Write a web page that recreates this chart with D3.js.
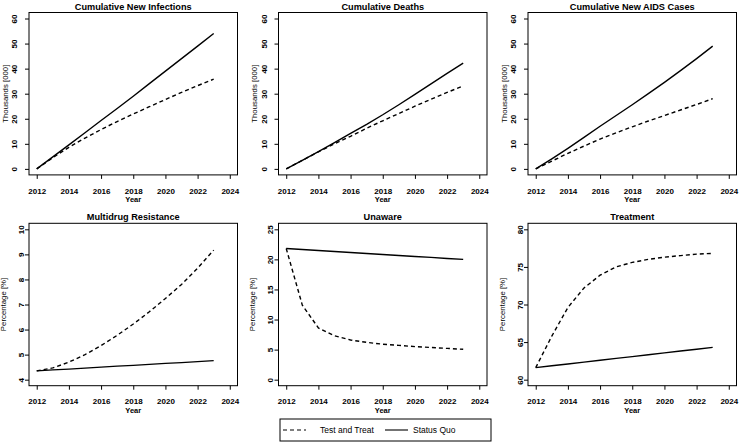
<!DOCTYPE html>
<html>
<head>
<meta charset="utf-8">
<script src="https://cdn.jsdelivr.net/npm/d3@7"></script>
<style>
  html, body { margin: 0; padding: 0; background: #fff; }
  svg { display: block; font-family: "Liberation Sans", Arial, Helvetica, sans-serif; }
</style>
</head>
<body>
<svg id="chart" width="739" height="443"></svg>
<script>
// ---------- data ----------
const years = [2012, 2013, 2014, 2015, 2016, 2017, 2018, 2019, 2020, 2021, 2022, 2023];
const yearTicks = [2012, 2014, 2016, 2018, 2020, 2022, 2024];

const panelTitles = ["Cumulative New Infections", "Cumulative Deaths", "Cumulative New AIDS Cases",
                     "Multidrug Resistance", "Unaware", "Treatment"];
const yTitles = ["Thousands [000]", "Thousands [000]", "Thousands [000]",
                 "Percentage [%]", "Percentage [%]", "Percentage [%]"];

const infectionsTT = [0, 4.5, 8.6, 12.3, 15.7, 18.9, 21.9, 24.8, 27.7, 30.5, 33.2, 35.8];
const infectionsSQ = [0, 4.8, 9.6, 14.4, 19.3, 24.1, 29.0, 34.0, 39.0, 44.0, 49.0, 54.0];
const deathsTT = [0, 3.4, 6.8, 10.0, 13.0, 16.2, 19.2, 22.1, 25.0, 27.8, 30.5, 33.1];
const deathsSQ = [0, 3.4, 6.9, 10.5, 14.2, 17.8, 21.6, 25.6, 29.7, 33.9, 38.1, 42.2];
const aidsTT = [0, 3.1, 6.2, 9.1, 11.9, 14.4, 16.8, 19.1, 21.3, 23.5, 25.7, 28.0];
const aidsSQ = [0, 4.0, 8.2, 12.6, 17.0, 21.3, 25.6, 30.0, 34.5, 39.2, 44.0, 49.0];
const mdrTT = [4.35, 4.47, 4.70, 5.00, 5.36, 5.77, 6.22, 6.71, 7.24, 7.80, 8.45, 9.17];
const mdrSQ = [4.35, 4.39, 4.42, 4.46, 4.50, 4.54, 4.57, 4.61, 4.65, 4.68, 4.72, 4.76];
const unawareTT = [21.8, 12.4, 8.6, 7.3, 6.6, 6.2, 5.9, 5.7, 5.5, 5.35, 5.2, 5.05];
const unawareSQ = [21.80, 21.64, 21.47, 21.31, 21.15, 20.98, 20.82, 20.65, 20.49, 20.33, 20.16, 20.00];
const treatTT = [61.6, 65.8, 69.6, 72.2, 73.9, 75.0, 75.6, 76.0, 76.3, 76.5, 76.7, 76.8];
const treatSQ = [61.60, 61.85, 62.09, 62.34, 62.58, 62.83, 63.07, 63.32, 63.56, 63.81, 64.05, 64.30];

const thousandsTicks = [0, 10, 20, 30, 40, 50, 60];
const mdrTicks = [4, 5, 6, 7, 8, 9, 10];
const unawareTicks = [0, 5, 10, 15, 20, 25];
const treatTicks = [60, 65, 70, 75, 80];

const seriesNames = ["Test and Treat", "Status Quo"];

// ---------- layout ----------
const panels = [
  {tt: infectionsTT, sq: infectionsSQ, ticks: thousandsTicks},
  {tt: deathsTT, sq: deathsSQ, ticks: thousandsTicks},
  {tt: aidsTT, sq: aidsSQ, ticks: thousandsTicks},
  {tt: mdrTT, sq: mdrSQ, ticks: mdrTicks},
  {tt: unawareTT, sq: unawareSQ, ticks: unawareTicks},
  {tt: treatTT, sq: treatSQ, ticks: treatTicks}
];
const colLeft = [29, 278.5, 528];
const rowTop = [12.5, 223.3];
const rowLabelOffset = [14.5, 8];
const rowTitleOffset = [21.5, 23.5];
const pw = 208.5, ph = 162.4;

const svg = d3.select("#chart");
const dash = "4,3";

panels.forEach((p, i) => {
  const col = i % 3, row = Math.floor(i / 3);
  const x0 = colLeft[col], y0 = rowTop[row];
  const g = svg.append("g").attr("transform", `translate(${x0},${y0})`);

  const xmin = yearTicks[0], xmax = yearTicks[yearTicks.length - 1];
  const xpad = (xmax - xmin) * 0.04;
  const x = d3.scaleLinear().domain([xmin - xpad, xmax + xpad]).range([0, pw]);
  const ymin = p.ticks[0], ymax = p.ticks[p.ticks.length - 1];
  const ypad = (ymax - ymin) * 0.04;
  const y = d3.scaleLinear().domain([ymin - ypad, ymax + ypad]).range([ph, 0]);

  // x axis
  const xa = g.append("g").attr("transform", `translate(0,${ph})`)
    .call(d3.axisBottom(x).tickValues(yearTicks).tickFormat(d3.format("d")).tickSize(4).tickPadding(9));
  xa.select(".domain").remove();
  xa.selectAll("line").attr("stroke", "#000");
  xa.selectAll("text").attr("font-size", 8).attr("font-weight", "bold").attr("fill", "#000")
    .attr("font-family", "Liberation Sans, Arial, sans-serif");

  // y axis
  const ya = g.append("g")
    .call(d3.axisLeft(y).tickValues(p.ticks).tickFormat(d3.format("d")).tickSize(4));
  ya.select(".domain").remove();
  ya.selectAll("line").attr("stroke", "#000");
  ya.selectAll("text")
    .attr("x", null).attr("dy", "0.36em")
    .attr("transform", `translate(${-rowLabelOffset[row]},0) rotate(-90)`)
    .attr("text-anchor", "middle")
    .attr("font-size", 8).attr("font-weight", "bold").attr("fill", "#000")
    .attr("font-family", "Liberation Sans, Arial, sans-serif");

  // box
  g.append("rect").attr("x", 0).attr("y", 0).attr("width", pw).attr("height", ph)
    .attr("fill", "none").attr("stroke", "#000").attr("stroke-width", 1);

  // titles
  g.append("text").attr("x", pw / 2).attr("y", -3).attr("text-anchor", "middle")
    .attr("font-size", 9.2).attr("font-weight", "bold").text(panelTitles[i]);
  g.append("text").attr("x", pw / 2).attr("y", ph + 27).attr("text-anchor", "middle")
    .attr("font-size", 7.5).attr("font-weight", "bold").text("Year");
  g.append("text")
    .attr("transform", `translate(${-rowTitleOffset[row]},${ph / 2}) rotate(-90)`)
    .attr("text-anchor", "middle").attr("font-size", 7.8).text(yTitles[i]);

  const line = d3.line().x((d, k) => x(years[k])).y(d => y(d));
  g.append("path").datum(p.sq).attr("d", line)
    .attr("fill", "none").attr("stroke", "#000").attr("stroke-width", 1.4);
  g.append("path").datum(p.tt).attr("d", line)
    .attr("fill", "none").attr("stroke", "#000").attr("stroke-width", 1.4)
    .attr("stroke-dasharray", dash);
});

// legend
const lg = svg.append("g").attr("transform", "translate(280,419)");
lg.append("rect").attr("x", 0).attr("y", 0).attr("width", 211).attr("height", 22)
  .attr("fill", "#fff").attr("stroke", "#000").attr("stroke-width", 1);
const legendItems = [
  {name: seriesNames[0], dashed: true, lx: 3, tx: 40},
  {name: seriesNames[1], dashed: false, lx: 105, tx: 133}
];
legendItems.forEach(it => {
  lg.append("line").attr("x1", it.lx).attr("x2", it.lx + 23).attr("y1", 11).attr("y2", 11)
    .attr("stroke", "#000").attr("stroke-width", 1.1)
    .attr("stroke-dasharray", it.dashed ? dash : null);
  lg.append("text").attr("x", it.tx).attr("y", 14).attr("font-size", 8.5).text(it.name);
});
</script>
</body>
</html>
